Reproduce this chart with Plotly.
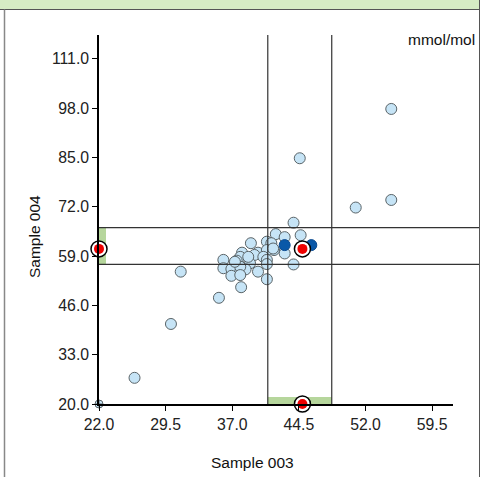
import plotly.graph_objects as go

# Data (Sample 003 vs Sample 004, mmol/mol)
x_vals = [54.9, 44.6, 50.9, 54.9, 43.9, 44.7, 41.9, 42.9, 39.1, 40.9, 41.4, 42.9, 43.9,
          41.7, 39.9, 40.9, 38.1, 37.9, 36.0, 39.5, 40.5, 40.9, 37.5, 39.0, 36.0, 36.9,
          37.9, 38.5, 39.9, 36.9, 40.9, 31.2, 40.9, 38.0, 35.5, 30.1, 26.0,
          38.8, 37.9, 37.9, 37.3, 41.6]
y_vals = [97.8, 84.8, 71.8, 73.8, 67.8, 64.5, 64.8, 64.0, 62.4, 62.8, 62.4, 59.7, 56.8,
          60.6, 59.9, 60.6, 59.9, 58.8, 58.0, 59.3, 58.8, 58.0, 57.8, 57.1, 55.8, 55.6,
          54.9, 55.5, 54.9, 53.8, 56.9, 54.9, 52.9, 50.8, 48.0, 41.1, 26.9,
          58.8, 56.2, 54.0, 57.5, 61.0]
clipped_x = [22.0]
clipped_y = [20.0]
ref_x = [42.9, 45.9]
ref_y = [61.9, 61.9]
target_x = [44.9]
target_y = [60.9]
x_limits = [41.0, 48.2]
y_limits = [56.8, 66.5]
x_ticks = [22.0, 29.5, 37.0, 44.5, 52.0, 59.5]
y_ticks = [20.0, 33.0, 46.0, 59.0, 72.0, 85.0, 98.0, 111.0]
x_range = [22.0, 61.85]
y_range = [20.0, 117.3]

FONT = "Arial, Liberation Sans, sans-serif"
W, H = 486, 477
L, R, T, B = 99, 33, 35, 73
pw, ph = W - L - R, H - T - B

def px(xp):
    return (xp - L) / pw

def py(yp):
    return (H - B - yp) / ph

fig = go.Figure()

fig.add_trace(go.Scatter(
    x=x_vals, y=y_vals, mode="markers",
    marker=dict(size=11, color="#c6e4f6", line=dict(color="#5a6468", width=1)),
    hoverinfo="skip", showlegend=False))

fig.add_trace(go.Scatter(
    x=clipped_x, y=clipped_y, mode="markers", cliponaxis=False,
    marker=dict(size=8, symbol="circle-cross", color="#c6e4f6", line=dict(color="#5a6468", width=1)),
    hoverinfo="skip", showlegend=False))

fig.add_trace(go.Scatter(
    x=ref_x, y=ref_y, mode="markers",
    marker=dict(size=11, color="#0a58a8", line=dict(color="#0a4a90", width=1)),
    hoverinfo="skip", showlegend=False))

# Target with projections on both axes
tx = target_x + [x_range[0]] + target_x
ty = target_y + target_y + [y_range[0]]
fig.add_trace(go.Scatter(
    x=tx, y=ty, mode="markers", cliponaxis=False,
    marker=dict(size=16, color="white", line=dict(color="black", width=1.5)),
    hoverinfo="skip", showlegend=False))
fig.add_trace(go.Scatter(
    x=tx, y=ty, mode="markers", cliponaxis=False,
    marker=dict(size=10, color="#ee0000", line=dict(width=0)),
    hoverinfo="skip", showlegend=False))

shapes = []
# green bands on axes
shapes.append(dict(type="rect", xref="x", yref="y", xsizemode="pixel", xanchor=x_range[0],
                   x0=0, x1=7, y0=y_limits[0], y1=y_limits[1],
                   fillcolor="#b6d69c", line=dict(width=0), layer="below"))
shapes.append(dict(type="rect", xref="x", yref="y", ysizemode="pixel", yanchor=y_range[0],
                   y0=0, y1=7, x0=x_limits[0], x1=x_limits[1],
                   fillcolor="#b6d69c", line=dict(width=0), layer="below"))
# limit lines
for xv in x_limits:
    shapes.append(dict(type="line", xref="x", yref="paper", x0=xv, x1=xv, y0=0, y1=1,
                       line=dict(color="#333333", width=1.2)))
for yv in y_limits:
    shapes.append(dict(type="line", xref="paper", yref="y", x0=0, x1=px(480), y0=yv, y1=yv,
                       line=dict(color="#333333", width=1.2)))
# outer frame / header
shapes.append(dict(type="rect", xref="paper", yref="paper", x0=px(0), x1=px(479.5),
                   y0=py(9.5), y1=py(-1), fillcolor="#d6ecc4", line=dict(width=0)))
shapes.append(dict(type="line", xref="paper", yref="paper", x0=px(0), x1=px(479.5),
                   y0=py(9.5), y1=py(9.5), line=dict(color="#555555", width=1)))
shapes.append(dict(type="line", xref="paper", yref="paper", x0=px(4.5), x1=px(4.5),
                   y0=py(9.5), y1=py(478), line=dict(color="#888888", width=1.5)))
shapes.append(dict(type="line", xref="paper", yref="paper", x0=px(479.5), x1=px(479.5),
                   y0=py(-1), y1=py(478), line=dict(color="#555555", width=1)))

annotations = [
    dict(text="mmol/mol", xref="paper", yref="paper", x=px(477.5), y=py(40),
         xanchor="right", yanchor="middle", showarrow=False,
         font=dict(family=FONT, size=15.5, color="#111")),
    dict(text="Sample 003", xref="paper", yref="paper", x=px(252), y=py(462),
         xanchor="center", yanchor="middle", showarrow=False,
         font=dict(family=FONT, size=15.5, color="#111")),
    dict(text="Sample 004", xref="paper", yref="paper", x=px(34), y=py(237),
         xanchor="center", yanchor="middle", showarrow=False, textangle=-90,
         font=dict(family=FONT, size=15.5, color="#111")),
]

tickfont = dict(family=FONT, size=15.8, color="#222")
fig.update_layout(
    width=W, height=H, margin=dict(l=L, r=R, t=T, b=B, pad=0),
    paper_bgcolor="white", plot_bgcolor="white",
    shapes=shapes, annotations=annotations, showlegend=False,
    font=dict(family=FONT, size=15, color="#222"),
    xaxis=dict(range=x_range, tickvals=x_ticks, ticktext=[f"{v:.1f}" for v in x_ticks],
               showgrid=False, zeroline=False, showline=True, linecolor="black", linewidth=1.5,
               ticks="outside", ticklen=5, tickcolor="black", tickwidth=1,
               tickfont=tickfont, fixedrange=True),
    yaxis=dict(range=y_range, tickvals=y_ticks, ticktext=[f"{v:.1f}" for v in y_ticks],
               showgrid=False, zeroline=False, showline=True, linecolor="black", linewidth=1.5,
               ticks="outside", ticklen=5, tickcolor="black", tickwidth=1,
               tickfont=tickfont, fixedrange=True),
)

fig.write_html("out.html", config={"displayModeBar": False},
               post_script="document.body.style.margin='0';document.body.style.overflow='hidden';")
